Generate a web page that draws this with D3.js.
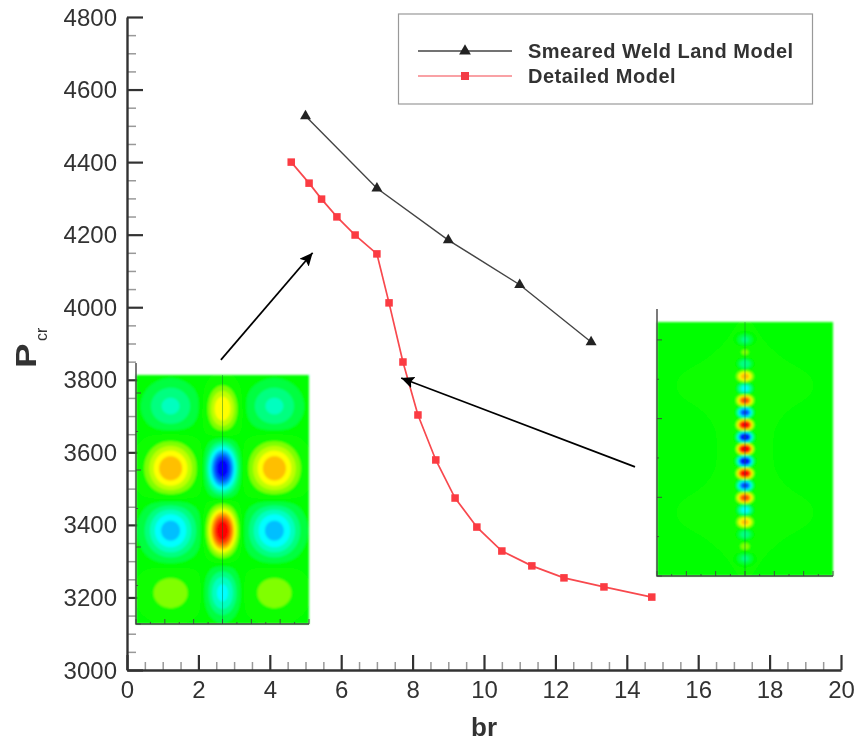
<!DOCTYPE html>
<html><head><meta charset="utf-8">
<script src="https://cdn.jsdelivr.net/npm/d3@7/dist/d3.min.js"></script>
<style>html,body{margin:0;background:#fff}svg{display:block}text{font-family:"Liberation Sans",Arial,sans-serif;fill:#333}</style>
</head><body><svg id="c" width="859" height="742"></svg>
<script>
const smearedBr=[5,7,9,11,13];
const smearedP=[4527,4328,4185,4062,3904];
const detailedBr=[4.6,5.1,5.45,5.88,6.39,7.0,7.34,7.73,8.15,8.65,9.19,9.8,10.5,11.34,12.24,13.36,14.7];
const detailedP=[4400,4342,4298,4249,4199,4147,4012,3849,3703,3579,3474,3394,3328,3287,3254,3229,3201];
const xTicks=[0,2,4,6,8,10,12,14,16,18,20];
const yTicks=[3000,3200,3400,3600,3800,4000,4200,4400,4600,4800];
const seriesNames=["Smeared Weld Land Model","Detailed Model"];
const arrowA=[[2.63,3855],[5.2,4150]];
const arrowB=[[14.23,3560],[7.68,3805]];
// inset mode shapes: [x, y, value, spreadX, spreadY], x/y as fractions of the inset frame
const leftPeaks=[[.2,.125,-.34,17,16],[.5,.135,.54,10.5,16],[.8,.125,-.34,17,16],[.2,.375,.66,17,18],[.5,.375,-1.04,10,16],[.8,.375,.66,17,18],
 [.2,.625,-.62,17,18],[.5,.625,1.06,10,16],[.8,.625,-.62,17,18],[.2,.875,.27,18,16],[.5,.875,-.48,10.5,16],[.8,.875,.27,18,16]];
const rightRows=[.07,.118,.165,.214,.262,.309,.356,.405,.453,.5,.548,.596,.644,.692,.74,.788,.836,.884,.931];
const rightValues=[-.24,.16,-.32,.58,-.55,.8,-.92,1.02,-1.1,1.1,-1.1,1.02,-.92,.8,-.55,.55,-.3,.18,-.24];
const rightFaint=[[.5,.25,.035,58,24],[.5,.75,.035,58,24],[.5,.5,.035,24,110]];

const x=d3.scaleLinear().domain([0,20]).range([127,841]);
const y=d3.scaleLinear().domain([3000,4800]).range([670,17]);
const svg=d3.select("#c");
const defs=svg.append("defs");
defs.append("filter").attr("id","soft").append("feGaussianBlur").attr("stdDeviation",.45);
defs.append("filter").attr("id","softer").append("feGaussianBlur").attr("stdDeviation",.9);
defs.append("marker").attr("id","ah").attr("viewBox","0 0 13 12").attr("refX",13).attr("refY",6)
 .attr("markerWidth",13).attr("markerHeight",12).attr("markerUnits","userSpaceOnUse").attr("orient","auto")
 .append("path").attr("d","M0,0L13,6L0,12L2.5,6Z").attr("fill","#000");
const root=svg.append("g").attr("filter","url(#soft)");

function axes(){
 const xa=root.append("g").attr("transform","translate(0,670)");
 const minor=d3.range(0,20.01,.5).filter(v=>v%2!==0);
 xa.call(d3.axisBottom(x).tickValues(minor).tickSize(-8).tickFormat(""))
   .call(g=>g.selectAll(".tick line").attr("stroke","#999").attr("stroke-width",1.5))
   .call(g=>g.select(".domain").remove());
 const xb=root.append("g").attr("transform","translate(0,670)");
 xb.call(d3.axisBottom(x).tickValues(xTicks).tickSizeInner(-15).tickSizeOuter(0).tickFormat(d3.format("d")))
   .call(g=>g.selectAll(".tick line").attr("stroke","#333").attr("stroke-width",2.2))
   .call(g=>g.select(".domain").attr("stroke","#333").attr("stroke-width",2.4))
   .call(g=>g.selectAll("text").attr("y",0).attr("dy","28px").attr("font-size",24).attr("fill","#333").attr("font-family",'"Liberation Sans"'));
 const ya=root.append("g").attr("transform","translate(127,0)");
 const yminor=d3.range(3000,4801,50).filter(v=>v%200!==0);
 ya.call(d3.axisLeft(y).tickValues(yminor).tickSize(-9).tickFormat(""))
   .call(g=>g.selectAll(".tick line").attr("stroke","#999").attr("stroke-width",1.5))
   .call(g=>g.select(".domain").remove());
 const yb=root.append("g").attr("transform","translate(127,0)");
 yb.call(d3.axisLeft(y).tickValues(yTicks).tickSizeInner(-16).tickSizeOuter(0).tickPadding(10).tickFormat(d3.format("d")))
   .call(g=>g.selectAll(".tick line").attr("stroke","#333").attr("stroke-width",2.2))
   .call(g=>g.select(".domain").attr("stroke","#333").attr("stroke-width",2.4))
   .call(g=>g.selectAll("text").attr("font-size",24).attr("fill","#333").attr("font-family",'"Liberation Sans"').attr("dy","8px"));
}
axes();

const jet=d3.scaleLinear().domain([-1,-.5,0,.5,1]).range(["#0000ff","#00ffff","#00ff00","#ffff00","#ff0000"]).clamp(true);
const thresholds=[...d3.range(-1.0625,0,.125),.02,...d3.range(.0625,1.07,.125)];
function inset(box,peaks,axTop,power){
 const g=root.append("g");
 const n=Math.round(box.x1-box.x0), m=Math.round(box.y1-box.y0);
 const fx=d3.scaleLinear().domain([0,1]).range([box.x0,box.x1]);
 const fy=d3.scaleLinear().domain([0,1]).range([box.y0,box.y1]);
 const vals=new Array(n*m).fill(0);
 for(let j=0;j<m;j++)for(let i=0;i<n;i++){
  const px=box.x0+i+.5,py=box.y0+j+.5;let v=0;
  for(const [a,b,c,s,t] of peaks){
   const dx=(px-fx(a))/s,dy=(py-fy(b))/t;
   v+=c*Math.exp(-Math.pow((dx*dx+dy*dy)/2,power));
  }
  vals[i+j*n]=v;
 }
 const cs=d3.contours().size([n,m]).thresholds(thresholds)(vals);
 const path=d3.geoPath(d3.geoTransform({point(a,b){this.stream.point(box.x0+a,box.y0+b)}}));
 const inner=g.append("g").attr("filter","url(#softer)");
 inner.append("rect").attr("x",box.x0).attr("y",box.y0).attr("width",box.x1-box.x0).attr("height",box.y1-box.y0).attr("fill","#00ff00");
 inner.selectAll("path").data(cs).join("path").attr("d",path).attr("fill",d=>{
   if(Math.abs(d.value)<.07) return d.value<0?"#00ff00":"#0cff00";
   return jet(d.value+.0625);
 });
 g.append("line").attr("x1",fx(.5)).attr("x2",fx(.5)).attr("y1",box.y0).attr("y2",box.y1).attr("stroke","#063").attr("stroke-width",.6).attr("opacity",.7);
 g.append("path").attr("d",`M${box.x0},${axTop}V${box.y1}H${box.x1}`).attr("fill","none").attr("stroke","#444").attr("stroke-width",1.4);
 const tx=d3.range(0,1.0001,1/6/2), ty=d3.range(0,7);
 g.selectAll("line.bt").data(tx).join("line").attr("x1",d=>fx(d)).attr("x2",d=>fx(d)).attr("y1",box.y1)
  .attr("y2",(d,i)=>box.y1-(i%2?2:5)).attr("stroke","#444").attr("stroke-width",.9);
 const stepY=box.ystep/2;
 g.selectAll("line.lt").data(ty).join("line").attr("x1",box.x0).attr("y1",d=>box.y1-d*stepY).attr("y2",d=>box.y1-d*stepY)
  .attr("x2",(d,i)=>box.x0+(i%2?2:5)).attr("stroke","#444").attr("stroke-width",.9);
}
inset({x0:136,x1:309,y0:375,y1:624,ystep:77},leftPeaks,363,1.25);
inset({x0:657,x1:833,y0:322,y1:576,ystep:78.7},
 [...rightFaint,...rightRows.map((r,i)=>[.5,r,rightValues[i],5.4,4])],309,1.6);

const line=d3.line().x(d=>x(d[0])).y(d=>y(d[1]));
const smeared=smearedBr.map((d,i)=>[d,smearedP[i]]), detailed=detailedBr.map((d,i)=>[d,detailedP[i]]);
root.append("path").attr("d",line(smeared)).attr("fill","none").attr("stroke","#444").attr("stroke-width",1.4);
root.append("path").attr("d",line(detailed)).attr("fill","none").attr("stroke","#f8484e").attr("stroke-width",1.7);
const tri=d3.symbol().type(d3.symbolTriangle).size(52);
root.selectAll("path.t").data(smeared).join("path").attr("class","t").attr("d",tri).attr("fill","#222")
 .attr("transform",d=>`translate(${x(d[0])},${y(d[1])})`);
root.selectAll("rect.s").data(detailed).join("rect").attr("class","s").attr("width",7.5).attr("height",7.5)
 .attr("x",d=>x(d[0])-3.75).attr("y",d=>y(d[1])-3.75).attr("fill","#fb3a42");

for(const a of [arrowA,arrowB]){
 root.append("line").attr("x1",x(a[0][0])).attr("y1",y(a[0][1])).attr("x2",x(a[1][0])).attr("y2",y(a[1][1]))
  .attr("stroke","#000").attr("stroke-width",1.7).attr("marker-end","url(#ah)");
}

const lg=root.append("g");
lg.append("rect").attr("x",398.5).attr("y",14).attr("width",414).attr("height",90).attr("fill","#fff").attr("stroke","#999").attr("stroke-width",1.2);
[[51,"#444",1.6],[76,"#f4444c",1.2]].forEach(([ly,c,w],i)=>{
 lg.append("line").attr("x1",418).attr("x2",512).attr("y1",ly).attr("y2",ly).attr("stroke",c).attr("stroke-width",w);
 lg.append("text").attr("x",528).attr("y",ly+7).attr("font-size",20).attr("letter-spacing",.5).attr("font-weight","bold").attr("fill","#333").text(seriesNames[i]);
});
lg.append("path").attr("d",d3.symbol().type(d3.symbolTriangle).size(60)).attr("transform","translate(465,51)").attr("fill","#222");
lg.append("rect").attr("x",461).attr("y",72).attr("width",8).attr("height",8).attr("fill","#f33e46");

root.append("text").attr("x",484).attr("y",736).attr("text-anchor","middle").attr("font-size",26).attr("font-weight","bold").text("br");
root.append("text").attr("transform","translate(36,368) rotate(-90) scale(1.27,1)").attr("font-size",29).attr("font-weight","bold").text("P");
root.append("text").attr("transform","translate(47,341) rotate(-90)").attr("font-size",16).text("cr");
</script></body></html>
